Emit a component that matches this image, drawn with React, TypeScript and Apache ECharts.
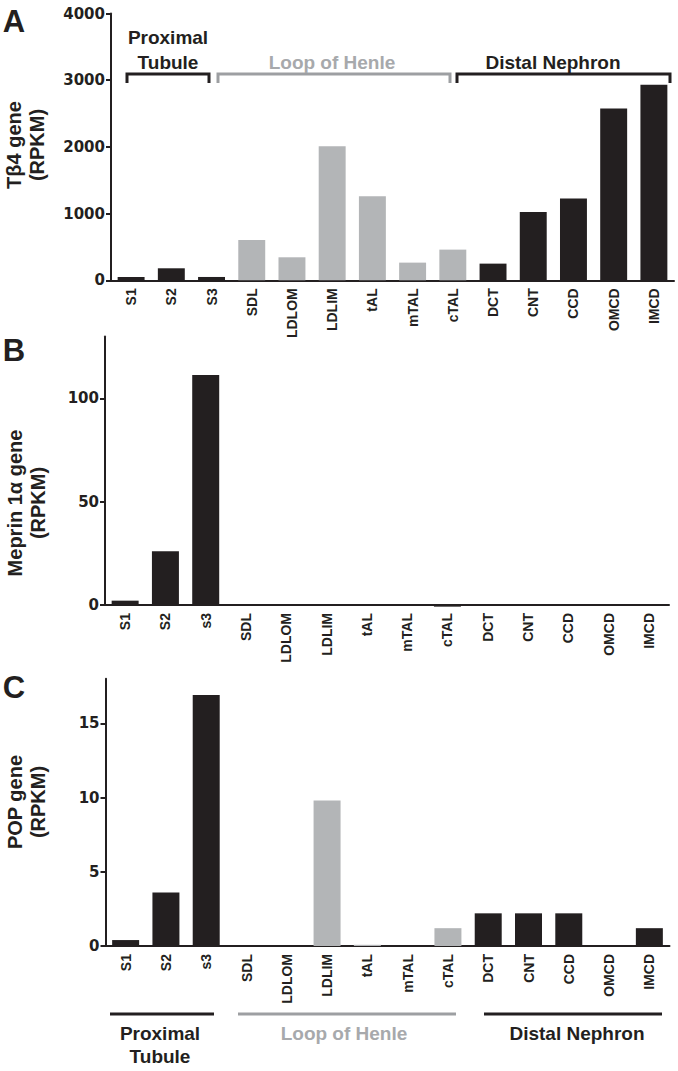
import React, { useEffect, useRef } from "react";
import * as echarts from "echarts";

const categoriesA = ["S1", "S2", "S3", "SDL", "LDLOM", "LDLIM", "tAL", "mTAL", "cTAL", "DCT", "CNT", "CCD", "OMCD", "IMCD"];
const categoriesBC = ["S1", "S2", "s3", "SDL", "LDLOM", "LDLIM", "tAL", "mTAL", "cTAL", "DCT", "CNT", "CCD", "OMCD", "IMCD"];
const segmentOf = ["PT", "PT", "PT", "LH", "LH", "LH", "LH", "LH", "LH", "DN", "DN", "DN", "DN", "DN"];

const tb4Values = [50, 180, 50, 605, 345, 2010, 1260, 265, 460, 250, 1025, 1225, 2575, 2930];
const meprinValues = [2.1, 26, 111.3, 0, 0, 0, 0, 0, -0.8, 0, 0, 0, 0, 0];
const popValues = [0.4, 3.6, 16.9, 0, 0, 9.8, 0.08, 0, 1.2, 2.2, 2.2, 2.2, 0, 1.2];

const tb4Ticks = [0, 1000, 2000, 3000, 4000];
const meprinTicks = [0, 50, 100];
const popTicks = [0, 5, 10, 15];

const BLACK = "#231f20";
const GRAY = "#b3b5b7";
const GRAY_TEXT = "#a7a9ac";
const FONT = "'Liberation Sans', Arial, sans-serif";
const TICK_FONT = "'DejaVu Sans', sans-serif";

function colorFor(i: number) {
  return segmentOf[i] === "LH" ? GRAY : BLACK;
}

function xAxis(gridIndex: number, cats: string[]) {
  return {
    type: "category",
    gridIndex,
    data: cats,
    axisLine: { lineStyle: { color: BLACK, width: 2 } },
    axisTick: { alignWithLabel: true, length: 5, lineStyle: { color: BLACK, width: 2 } },
    axisLabel: {
      rotate: 90,
      margin: 8,
      color: BLACK,
      fontFamily: FONT,
      fontWeight: "bold",
      fontSize: 14,
    },
  };
}

function yAxis(gridIndex: number, max: number, interval: number, ticks: number[]) {
  return {
    type: "value",
    gridIndex,
    min: 0,
    max,
    interval,
    axisLine: { show: true, lineStyle: { color: BLACK, width: 2 } },
    axisTick: { show: true, length: 5, customValues: ticks, lineStyle: { color: BLACK, width: 2 } },
    axisLabel: {
      customValues: ticks,
      formatter: (v: number) => String(v),
      margin: 6,
      color: BLACK,
      fontFamily: TICK_FONT,
      fontWeight: "bold",
      fontSize: 15,
    },
    splitLine: { show: false },
  };
}

function barSeries(idx: number, values: number[]) {
  return {
    type: "bar",
    xAxisIndex: idx,
    yAxisIndex: idx,
    barWidth: "67%",
    clip: false,
    data: values.map((v, i) => ({ value: v, itemStyle: { color: v < 0 ? BLACK : colorFor(i) } })),
  };
}

function txt(text: string, x: number, y: number, opts: any = {}) {
  return {
    type: "text",
    x,
    y,
    rotation: opts.rotation || 0,
    style: {
      text,
      fill: opts.fill || BLACK,
      font: `bold ${opts.size || 19}px ${FONT}`,
      align: "center",
      verticalAlign: "middle",
      lineHeight: opts.lineHeight || 23,
    },
  };
}

function bracket(x1: number, x2: number, y: number, color: string) {
  return {
    type: "polyline",
    shape: { points: [[x1, y + 9], [x1, y], [x2, y], [x2, y + 9]] },
    style: { stroke: color, lineWidth: 3, fill: "none" },
  };
}

function hline(x1: number, x2: number, y: number, color: string) {
  return {
    type: "line",
    shape: { x1, y1: y, x2, y2: y },
    style: { stroke: color, lineWidth: 3 },
  };
}

export default function App() {
  const ref = useRef<HTMLDivElement>(null);
  useEffect(() => {
    if (!ref.current) return;
    const chart = echarts.init(ref.current, null, { renderer: "svg" });
    chart.setOption({
      animation: false,
      backgroundColor: "#ffffff",
      grid: [
        { left: 111, top: 13.5, width: 563, height: 266.8 },
        { left: 105, top: 336.5, width: 564, height: 268.5 },
        { left: 105.5, top: 678.7, width: 564, height: 267.3 },
      ],
      xAxis: [xAxis(0, categoriesA), xAxis(1, categoriesBC), xAxis(2, categoriesBC)],
      yAxis: [
        yAxis(0, 4000, 1000, tb4Ticks),
        yAxis(1, 130, 50, meprinTicks),
        yAxis(2, 18, 5, popTicks),
      ],
      series: [barSeries(0, tb4Values), barSeries(1, meprinValues), barSeries(2, popValues)],
      graphic: [
        txt("A", 14, 21, { size: 31 }),
        txt("B", 14, 350, { size: 31 }),
        txt("C", 14, 687, { size: 31 }),
        txt("Tβ4 gene\n(RPKM)", 25, 145, { size: 20, rotation: Math.PI / 2 }),
        txt("Meprin 1α gene\n(RPKM)", 26, 503, { size: 20, rotation: Math.PI / 2 }),
        txt("POP gene\n(RPKM)", 26, 802, { size: 20, rotation: Math.PI / 2 }),
        bracket(127, 209, 74, BLACK),
        bracket(218, 450, 74, "#9d9fa2"),
        bracket(457, 670, 74, BLACK),
        txt("Proximal", 168, 37),
        txt("Tubule", 168, 62),
        txt("Loop of Henle", 332, 62, { fill: GRAY_TEXT }),
        txt("Distal Nephron", 553, 62),
        hline(110, 214, 1014, BLACK),
        hline(238, 456, 1014, "#9d9fa2"),
        hline(484, 662, 1014, BLACK),
        txt("Proximal", 160, 1033),
        txt("Tubule", 160, 1056),
        txt("Loop of Henle", 344, 1033, { fill: GRAY_TEXT }),
        txt("Distal Nephron", 577, 1033),
      ],
    });
    return () => chart.dispose();
  }, []);
  return (
    <div
      ref={ref}
      style={{ position: "absolute", left: 0, top: 0, width: 678, height: 1071 }}
    />
  );
}
